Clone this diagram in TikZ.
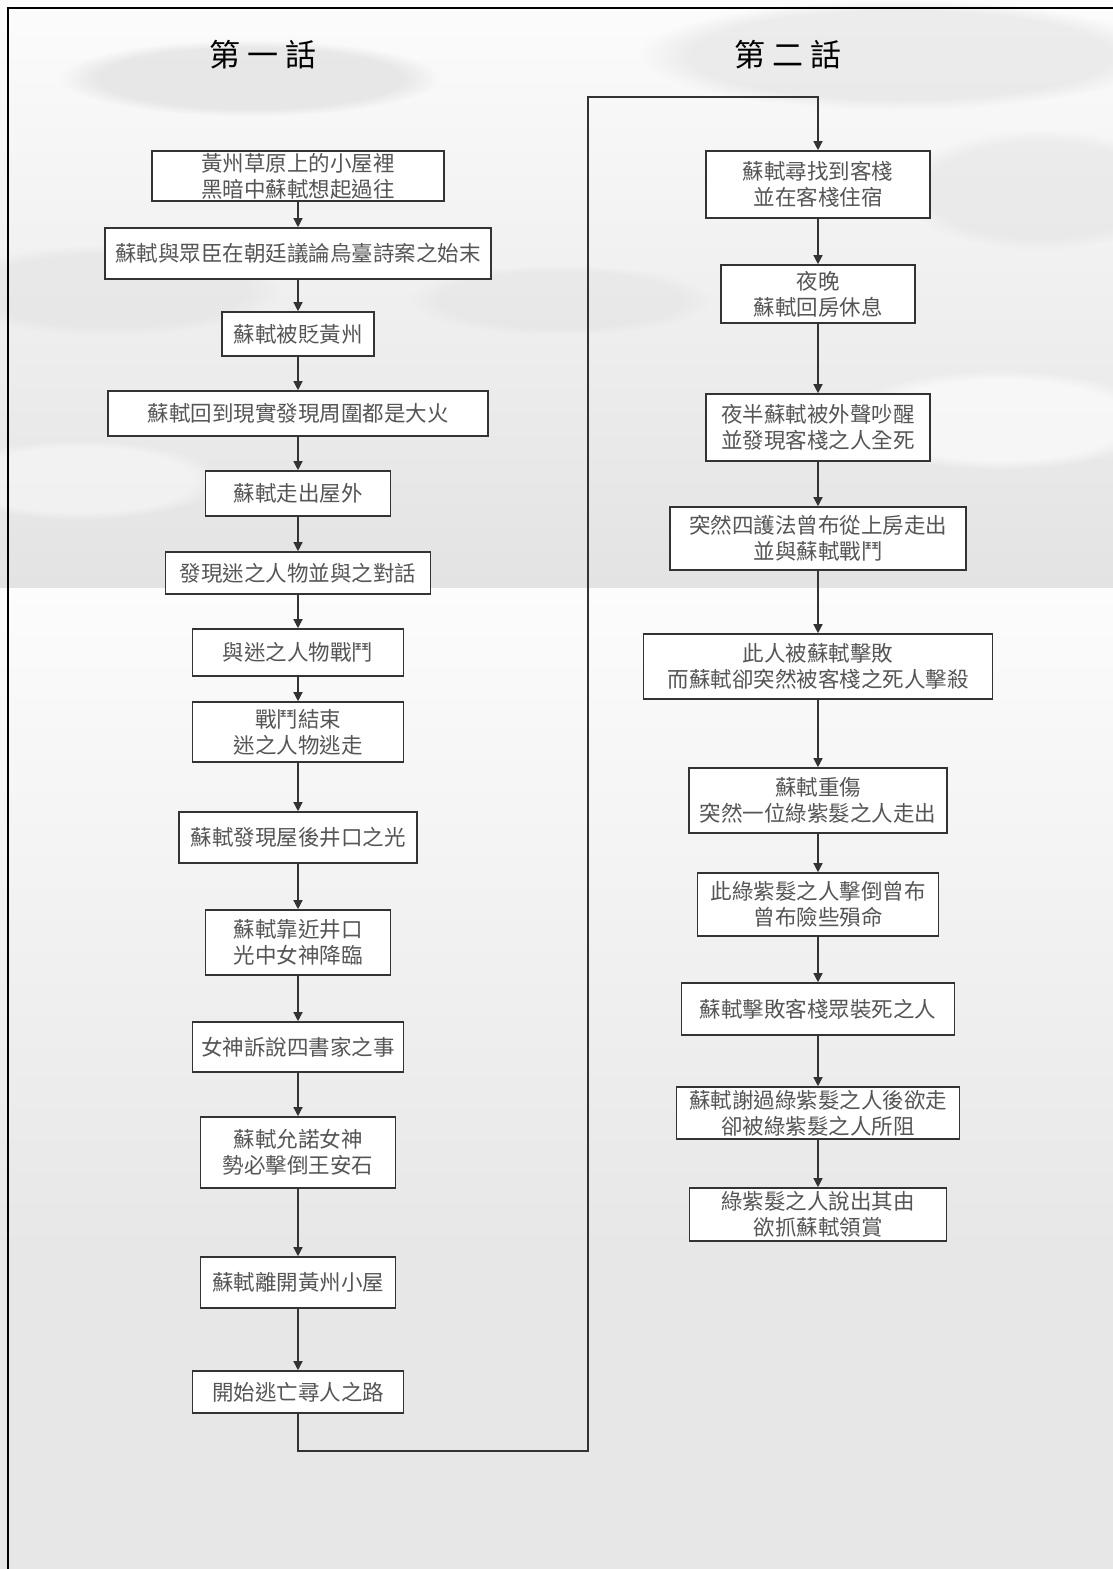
\documentclass[tikz,border=0pt]{standalone}
\usepackage{fontspec}
\setmainfont{Noto Sans CJK TC}
\usetikzlibrary{arrows.meta,fadings}

\definecolor{inkc}{HTML}{555555}
\definecolor{linec}{HTML}{333333}
\definecolor{skyhi}{HTML}{FCFCFC}
\definecolor{skylo}{HTML}{E3E3E3}
\definecolor{groundlo}{HTML}{E7E7E7}
\definecolor{cloudc}{HTML}{DADADA}

\tikzset{
  stepbox/.style={draw=linec, line width=1.6pt, fill=white, text=inkc,
    inner sep=0pt, align=center, font=\fontsize{21.5}{26}\selectfont},
  flow/.style={draw=linec, line width=1.3pt,
    -{Triangle[width=9pt,length=9pt]}},
  title/.style={text=black, font=\fontsize{31}{36}\selectfont},
  cloud/.style={fill=cloudc, path fading=circle with fuzzy edge 20 percent, draw=none}
}

\begin{document}
\begin{tikzpicture}[x=1pt,y=-1pt]
\useasboundingbox (0,0) rectangle (1113,1569);

% sky and ground backgrounds
\shade[top color=skyhi, bottom color=skylo] (0,0) rectangle (1113,588);
\shade[top color=skyhi, bottom color=groundlo] (0,588) rectangle (1113,1250);
\fill[groundlo] (0,1249) rectangle (1113,1569);

% soft clouds
\fill[cloud, opacity=0.55] (250,78) ellipse [x radius=190, y radius=38];
\fill[cloud, opacity=0.45] (900,55) ellipse [x radius=260, y radius=55];
\fill[cloud, opacity=0.35] (1040,190) ellipse [x radius=140, y radius=60];
\fill[cloud, opacity=0.35] (110,290) ellipse [x radius=170, y radius=45];
\fill[cloud, opacity=0.3] (560,300) ellipse [x radius=150, y radius=35];
\fill[white, path fading=circle with fuzzy edge 20 percent, opacity=0.6] (1000,420) ellipse [x radius=160, y radius=50];
\fill[white, path fading=circle with fuzzy edge 20 percent, opacity=0.45] (80,480) ellipse [x radius=140, y radius=40];

% frame edges
\draw[black, line width=2.6pt] (8,1569) -- (8,8) -- (1113,8);

% titles
\node[title] (t1) at (263,55) {第\hspace{0.22em}一\hspace{0.22em}話};
\node[title] (t2) at (788,55) {第\hspace{0.22em}二\hspace{0.22em}話};

% first episode
\node[stepbox, minimum width=292, minimum height=50] (l1) at (298,176) {黃州草原上的小屋裡\\黑暗中蘇軾想起過往};
\node[stepbox, minimum width=386, minimum height=51] (l2) at (298,253.5) {蘇軾與眾臣在朝廷議論烏臺詩案之始末};
\node[stepbox, minimum width=152, minimum height=44] (l3) at (298,334) {蘇軾被貶黃州};
\node[stepbox, minimum width=380, minimum height=45] (l4) at (298,413.5) {蘇軾回到現實發現周圍都是大火};
\node[stepbox, minimum width=185, minimum height=45] (l5) at (298,493.5) {蘇軾走出屋外};
\node[stepbox, minimum width=265, minimum height=42] (l6) at (298,573) {發現迷之人物並與之對話};
\node[stepbox, minimum width=211, minimum height=47] (l7) at (298,652.5) {與迷之人物戰鬥};
\node[stepbox, minimum width=211, minimum height=60] (l8) at (298,732) {戰鬥結束\\迷之人物逃走};
\node[stepbox, minimum width=238, minimum height=51] (l9) at (298,837.5) {蘇軾發現屋後井口之光};
\node[stepbox, minimum width=185, minimum height=65] (l10) at (298,942.5) {蘇軾靠近井口\\光中女神降臨};
\node[stepbox, minimum width=211, minimum height=50] (l11) at (298,1047) {女神訴說四書家之事};
\node[stepbox, minimum width=195, minimum height=71] (l12) at (298,1152.5) {蘇軾允諾女神\\勢必擊倒王安石};
\node[stepbox, minimum width=195, minimum height=51] (l13) at (298,1282.5) {蘇軾離開黃州小屋};
\node[stepbox, minimum width=211, minimum height=42] (l14) at (298,1392) {開始逃亡尋人之路};

% second episode
\node[stepbox, minimum width=224, minimum height=67] (r1) at (818,184.5) {蘇軾尋找到客棧\\並在客棧住宿};
\node[stepbox, minimum width=194, minimum height=58] (r2) at (818,294) {夜晚\\蘇軾回房休息};
\node[stepbox, minimum width=224, minimum height=67] (r3) at (818,427.5) {夜半蘇軾被外聲吵醒\\並發現客棧之人全死};
\node[stepbox, minimum width=296, minimum height=63] (r4) at (818,538.5) {突然四護法曾布從上房走出\\並與蘇軾戰鬥};
\node[stepbox, minimum width=349, minimum height=65] (r5) at (818,666.5) {此人被蘇軾擊敗\\而蘇軾卻突然被客棧之死人擊殺};
\node[stepbox, minimum width=258, minimum height=65] (r6) at (818,800.5) {蘇軾重傷\\突然一位綠紫髮之人走出};
\node[stepbox, minimum width=241, minimum height=63] (r7) at (818,904.5) {此綠紫髮之人擊倒曾布\\曾布險些殞命};
\node[stepbox, minimum width=273, minimum height=52] (r8) at (818,1009) {蘇軾擊敗客棧眾裝死之人};
\node[stepbox, minimum width=283, minimum height=52] (r9) at (818,1113) {蘇軾謝過綠紫髮之人後欲走\\卻被綠紫髮之人所阻};
\node[stepbox, minimum width=257, minimum height=53] (r10) at (818,1214.5) {綠紫髮之人說出其由\\欲抓蘇軾領賞};

% connectors
\foreach \a/\b in {l1/l2,l2/l3,l3/l4,l4/l5,l5/l6,l6/l7,l7/l8,l8/l9,l9/l10,l10/l11,l11/l12,l12/l13,l13/l14,
                   r1/r2,r2/r3,r3/r4,r4/r5,r5/r6,r6/r7,r7/r8,r8/r9,r9/r10}
  \draw[flow] (\a.south) -- (\b.north);

\coordinate (turnA) at (588,1451);
\coordinate (turnB) at (588,97);
\draw[flow] (l14.south) |- (turnA) -- (turnB) -| (r1.north);
\end{tikzpicture}
\end{document}
